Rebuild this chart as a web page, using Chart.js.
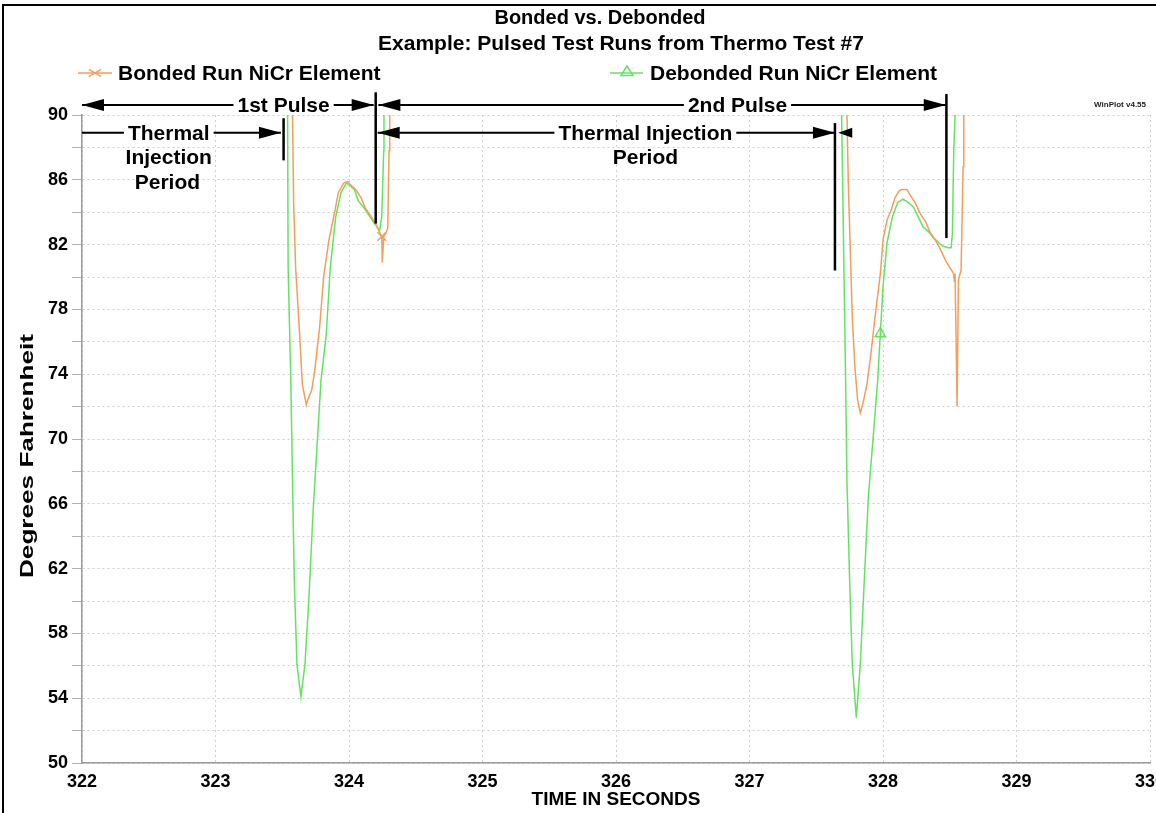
<!DOCTYPE html>
<html>
<head>
<meta charset="utf-8">
<title>Bonded vs. Debonded</title>
<script src="https://cdn.jsdelivr.net/npm/chart.js@4.4.1/dist/chart.umd.min.js"></script>
<style>
  html, body { margin: 0; padding: 0; background: #fff; overflow: hidden; width: 1156px; height: 813px; }
  #wrap { position: relative; width: 1156px; height: 813px; overflow: hidden; }
  #thermo-chart { position: absolute; left: 0; top: 0; }
</style>
</head>
<body>
<div id="wrap"><canvas id="thermo-chart" width="1190" height="813"></canvas></div>
<script>
// values (seconds, degrees F); 96 = off the top of the plot
var bondedTime = [323.56, 323.577, 323.585, 323.60, 323.63, 323.65, 323.68, 323.69, 323.71, 323.72,
    323.74, 323.78, 323.81, 323.85, 323.89, 323.92, 323.96, 323.99, 324.01, 324.05,
    324.09, 324.12, 324.16, 324.20, 324.22, 324.245, 324.25, 324.26, 324.275, 324.29,
    324.30, 324.305, 324.32,
    327.71, 327.73, 327.74, 327.755, 327.77, 327.79, 327.81, 327.83, 327.85, 327.88,
    327.91, 327.94, 327.98, 328.00, 328.03, 328.06, 328.09, 328.12, 328.14, 328.18,
    328.20, 328.24, 328.28, 328.32, 328.35, 328.39, 328.43, 328.47, 328.50, 328.53,
    328.535, 328.54, 328.555, 328.565, 328.57, 328.585, 328.60, 328.605, 328.62];
var bondedTemp = [96, 90, 84.7, 80.6, 76.5, 73.4, 72.1, 72.4, 72.8, 73.0,
    74.0, 76.9, 80.0, 82.3, 83.9, 85.2, 85.8, 85.9, 85.7, 85.4,
    84.9, 84.3, 83.8, 83.3, 82.9, 82.5, 80.9, 82.5, 82.7, 83.0,
    87.8, 90, 96,
    96, 90, 85.8, 81.7, 77.5, 74.4, 72.4, 71.6, 72.2, 73.4,
    75.3, 77.5, 80.2, 82.3, 83.5, 84.1, 84.9, 85.3, 85.4, 85.4,
    85.1, 84.6, 83.9, 83.4, 82.8, 82.3, 81.7, 81.0, 80.6, 80.2,
    79.7, 80.2, 72.0, 79.8, 80.0, 80.4, 86.8, 90, 96];
var debondedTime = [323.53, 323.54, 323.544, 323.564, 323.577, 323.59, 323.61, 323.64, 323.67, 323.70,
    323.73, 323.76, 323.79, 323.83, 323.86, 323.90, 323.94, 323.98, 324.00, 324.04,
    324.07, 324.11, 324.15, 324.19, 324.22, 324.23, 324.245, 324.26, 324.262, 324.28,
    327.68, 327.69, 327.72, 327.73, 327.75, 327.77, 327.80, 327.83, 327.86, 327.89,
    327.93, 327.96, 327.98, 328.00, 328.03, 328.07, 328.11, 328.15, 328.19, 328.23,
    328.27, 328.30, 328.34, 328.38, 328.42, 328.45, 328.49, 328.51, 328.52, 328.53,
    328.54, 328.56];
var debondedTemp = [96, 90, 80.6, 73.6, 67.4, 61.3, 56.1, 54.1, 56.1, 60.2,
    65.4, 69.5, 73.6, 76.5, 80.6, 83.7, 85.2, 85.8, 85.7, 85.4,
    84.7, 84.3, 83.8, 83.3, 83.0, 82.9, 83.7, 87.8, 90, 96,
    96, 90, 73.6, 67.4, 61.3, 56.1, 52.8, 56.1, 61.3, 66.4,
    70.5, 73.6, 76.5, 79.4, 82.1, 83.7, 84.6, 84.8, 84.6, 84.3,
    83.6, 83.1, 82.8, 82.4, 82.1, 81.9, 81.8, 81.8, 82.7, 87.8,
    90, 96];
// where WinPlot put its series symbols
var bondedMarkAt = [324.245];
var debondedMarkAt = [327.98];

var seriesNames = ['Bonded Run NiCr Element', 'Debonded Run NiCr Element'];
var titleLines = ['Bonded vs. Debonded', 'Example: Pulsed Test Runs from Thermo Test #7'];
var xTitle = 'TIME IN SECONDS';
var yTitle = 'Degrees Fahrenheit';

// hand-drawn callouts on the original (time, degrees)
var spans = [
    { from: 322, to: 324.185, at: 90.62, label: '1st Pulse', labelAt: 323.51, startArrow: true, endArrow: true },
    { from: 324.22, to: 328.47, at: 90.62, label: '2nd Pulse', labelAt: 326.91, startArrow: true, endArrow: true },
    { from: 322, to: 323.49, at: 88.9, label: 'Thermal', labelAt: 322.65, startArrow: false, endArrow: true },
    { from: 324.215, to: 327.64, at: 88.9, label: 'Thermal Injection', labelAt: 326.22, startArrow: true, endArrow: true }
];
var bars = [
    { t: 323.51, top: 89.8, bottom: 87.2 },
    { t: 324.20, top: 91.4, bottom: 83.3 },
    { t: 327.64, top: 89.5, bottom: 80.4 },
    { t: 328.475, top: 91.3, bottom: 82.4 }
];
var notes = [
    { text: 'Injection', t: 322.65, v: 87.35 },
    { text: 'Period', t: 322.64, v: 85.8 },
    { text: 'Period', t: 326.22, v: 87.35 }
];

var orange = 'rgb(243,158,92)';
var green = 'rgb(98,228,98)';
var FONT = '"Liberation Sans", Arial, sans-serif';

function toPoints(times, temps) {
    return times.map(function (t, i) { return { x: t, y: temps[i] }; });
}
function markRadius(times, marks) {
    return times.map(function (t) { return marks.indexOf(t) >= 0 ? 6 : 0; });
}

function arrowHead(ctx, tipX, tipY, dir, len, half) {
    ctx.beginPath();
    ctx.moveTo(tipX, tipY);
    ctx.lineTo(tipX - dir * len, tipY - half);
    ctx.lineTo(tipX - dir * len, tipY + half);
    ctx.closePath();
    ctx.fill();
}
function drawCross(ctx, cx, cy, r, color) {
    ctx.save();
    ctx.strokeStyle = color;
    ctx.lineWidth = 1.5;
    ctx.beginPath();
    ctx.moveTo(cx - r, cy - r * 0.6); ctx.lineTo(cx + r, cy + r * 0.6);
    ctx.moveTo(cx - r, cy + r * 0.6); ctx.lineTo(cx + r, cy - r * 0.6);
    ctx.stroke();
    ctx.restore();
}
function drawTriangle(ctx, cx, cy, r, color) {
    ctx.save();
    ctx.strokeStyle = color;
    ctx.lineWidth = 1.5;
    ctx.beginPath();
    ctx.moveTo(cx, cy - r);
    ctx.lineTo(cx + r, cy + r * 0.6);
    ctx.lineTo(cx - r, cy + r * 0.6);
    ctx.closePath();
    ctx.stroke();
    ctx.restore();
}

var frameAndNotes = {
    id: 'frameAndNotes',
    beforeDraw: function (chart) {
        var ctx = chart.ctx;
        ctx.save();
        ctx.fillStyle = '#fff';
        ctx.fillRect(0, 0, chart.width, chart.height);
        ctx.restore();
    },
    afterDraw: function (chart) {
        var ctx = chart.ctx;
        var xs = chart.scales.x, ys = chart.scales.y;
        ctx.save();

        // outer frame (only left and top survive in the picture)
        ctx.strokeStyle = '#000';
        ctx.lineWidth = 2;
        ctx.beginPath();
        ctx.moveTo(3, chart.height); ctx.lineTo(3, 5); ctx.lineTo(chart.width, 5);
        ctx.stroke();

        // title
        ctx.fillStyle = '#000';
        ctx.textAlign = 'center';
        ctx.textBaseline = 'middle';
        ctx.font = 'bold 20px ' + FONT;
        ctx.fillText(titleLines[0], 600, 18);
        ctx.font = 'bold 21px ' + FONT;
        ctx.fillText(titleLines[1], 621, 44);

        // legend
        ctx.font = 'bold 21px ' + FONT;
        ctx.textAlign = 'left';
        ctx.lineWidth = 1.5;
        ctx.strokeStyle = orange;
        ctx.beginPath(); ctx.moveTo(78, 73); ctx.lineTo(112, 73); ctx.stroke();
        drawCross(ctx, 95, 73, 6, orange);
        ctx.fillText(seriesNames[0], 118, 74);
        ctx.strokeStyle = green;
        ctx.beginPath(); ctx.moveTo(610, 73); ctx.lineTo(643, 73); ctx.stroke();
        drawTriangle(ctx, 627, 72, 6, green);
        ctx.fillText(seriesNames[1], 650, 74);

        // y axis title, stretched along its length like the original
        ctx.save();
        ctx.font = 'bold 19px ' + FONT;
        ctx.textAlign = 'center';
        var yLen = ctx.measureText(yTitle).width;
        ctx.translate(28, 456);
        ctx.rotate(-Math.PI / 2);
        ctx.scale(244 / yLen, 1);
        ctx.fillText(yTitle, 0, 0);
        ctx.restore();

        // version stamp
        ctx.font = 'bold 8px ' + FONT;
        ctx.textAlign = 'right';
        ctx.fillStyle = '#222';
        ctx.fillText('WinPlot v4.55', 1146, 105);

        // callouts
        ctx.fillStyle = '#000';
        ctx.strokeStyle = '#000';
        ctx.font = 'bold 21px ' + FONT;
        ctx.textAlign = 'center';
        spans.forEach(function (s) {
            var xa = xs.getPixelForValue(s.from), xb = xs.getPixelForValue(s.to);
            var yy = ys.getPixelForValue(s.at), lx = xs.getPixelForValue(s.labelAt);
            var w = ctx.measureText(s.label).width;
            ctx.lineWidth = 2;
            ctx.beginPath();
            ctx.moveTo(xa, yy); ctx.lineTo(lx - w / 2 - 4, yy);
            ctx.moveTo(lx + w / 2 + 4, yy); ctx.lineTo(xb, yy);
            ctx.stroke();
            ctx.fillText(s.label, lx, yy + 1);
            if (s.startArrow) arrowHead(ctx, xa, yy, -1, 22, 6);
            if (s.endArrow) arrowHead(ctx, xb, yy, 1, 22, 6);
        });
        // little back arrow after the second injection bar
        arrowHead(ctx, xs.getPixelForValue(327.665), ys.getPixelForValue(88.9), -1, 14, 5);
        notes.forEach(function (n) {
            ctx.fillText(n.text, xs.getPixelForValue(n.t), ys.getPixelForValue(n.v));
        });
        ctx.lineWidth = 2.5;
        bars.forEach(function (b) {
            var bx = xs.getPixelForValue(b.t);
            ctx.beginPath();
            ctx.moveTo(bx, ys.getPixelForValue(b.top));
            ctx.lineTo(bx, ys.getPixelForValue(b.bottom));
            ctx.stroke();
        });
        ctx.restore();
    }
};

document.addEventListener('DOMContentLoaded', function () {
    var ctx = document.getElementById('thermo-chart').getContext('2d');

    var chart = new Chart(ctx, {
        type: 'line',
        data: {
            datasets: [{
                label: seriesNames[0],
                data: toPoints(bondedTime, bondedTemp),
                borderColor: orange,
                borderWidth: 1.5,
                pointStyle: 'crossRot',
                pointRadius: markRadius(bondedTime, bondedMarkAt),
                pointBorderColor: orange,
                pointBackgroundColor: 'rgba(0,0,0,0)',
                pointBorderWidth: 1.5,
                tension: 0
            }, {
                label: seriesNames[1],
                data: toPoints(debondedTime, debondedTemp),
                borderColor: green,
                borderWidth: 1.5,
                pointStyle: 'triangle',
                pointRadius: markRadius(debondedTime, debondedMarkAt),
                pointBorderColor: green,
                pointBackgroundColor: 'rgba(0,0,0,0)',
                pointBorderWidth: 1.5,
                tension: 0
            }]
        },
        options: {
            responsive: false,
            animation: false,
            devicePixelRatio: 1,
            layout: { padding: { top: 115, right: 40, left: 12, bottom: 0 } },
            plugins: {
                legend: { display: false },
                title: { display: false },
                tooltip: { enabled: false }
            },
            scales: {
                x: {
                    type: 'linear',
                    min: 322,
                    max: 330,
                    afterFit: function (s) { s.height = 50; },
                    ticks: {
                        stepSize: 1,
                        autoSkip: false,
                        maxRotation: 0,
                        padding: 8,
                        color: '#000',
                        font: { family: FONT, size: 18, weight: 'bold' }
                    },
                    grid: { color: '#cfcfcf', lineWidth: 1, drawTicks: false },
                    border: { display: true, color: '#9a9a9a', width: 1.5, dash: [2, 3] },
                    title: {
                        display: true,
                        text: xTitle,
                        color: '#000',
                        padding: { top: 0, bottom: 2 },
                        font: { family: FONT, size: 19, weight: 'bold' }
                    }
                },
                y: {
                    min: 50,
                    max: 90,
                    afterFit: function (s) { s.width = 70; },
                    ticks: {
                        stepSize: 2,
                        autoSkip: false,
                        padding: 4,
                        color: '#000',
                        font: { family: FONT, size: 18, weight: 'bold' },
                        callback: function (v) { return (v - 50) % 4 === 0 ? v : ''; }
                    },
                    grid: { color: '#cfcfcf', lineWidth: 1, tickLength: 10, tickColor: '#b0b0b0' },
                    border: { display: true, color: '#9a9a9a', width: 1.5, dash: [2, 3] },
                    title: { display: false }
                }
            }
        },
        plugins: [frameAndNotes]
    });
});
</script>
</body>
</html>
